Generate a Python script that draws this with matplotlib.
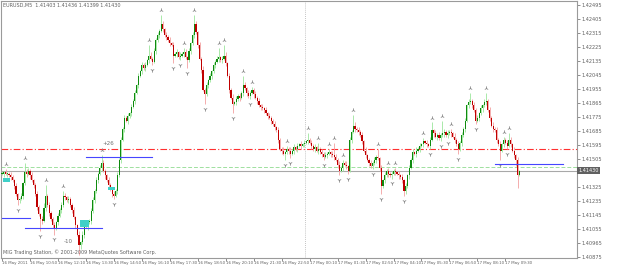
import numpy as np
import matplotlib
matplotlib.use("Agg")
import matplotlib.pyplot as plt
from matplotlib.patches import Rectangle
from datetime import datetime, timedelta

# EURUSD M5, prices kept as pips above 1.4000
base = 1.40
closes = [
    141, 142, 141, 141, 140, 139, 137, 133, 128, 124,
    125, 127, 135, 142, 141, 143, 140, 137, 134, 128,
    120, 115, 112, 111, 119, 127, 121, 116, 112, 108,
    106, 110, 114, 118, 121, 127, 126, 124, 125, 121,
    118, 113, 108, 102, 95, 97, 102, 108, 107, 110,
    111, 117, 124, 130, 137, 141, 145, 148, 143, 140,
    137, 134, 131, 128, 127, 130, 140, 150, 163, 170,
    177, 175, 178, 180, 184, 188, 193, 198, 204, 207,
    211, 209, 211, 214, 217, 215, 213, 220, 227, 230,
    233, 237, 234, 230, 229, 227, 225, 224, 217, 218,
    219, 216, 217, 218, 219, 216, 214, 220, 225, 230,
    237, 232, 224, 215, 208, 195, 192, 198, 201, 204,
    207, 211, 213, 215, 216, 214, 215, 217, 212, 204,
    195, 190, 186, 187, 189, 191, 190, 193, 198, 196,
    193, 191, 193, 195, 192, 190, 188, 185, 184, 183,
    182, 180, 178, 177, 175, 173, 171, 169, 163, 157,
    156, 154, 155, 157, 156, 154, 156, 158, 157, 159,
    160, 159, 160, 161, 162, 163, 161, 159, 157, 158,
    156, 157, 155, 154, 152, 153, 154, 155, 154, 153,
    152, 150, 147, 143, 145, 148, 147, 146, 143, 163,
    168, 172, 170, 169, 168, 166, 162, 156, 153, 150,
    148, 146, 148, 150, 152, 151, 145, 133, 137, 140,
    143, 141, 140, 141, 143, 142, 141, 140, 139, 137,
    130, 133, 140, 145, 150, 155, 154, 156, 157, 159,
    160, 162, 161, 160, 159, 163, 169, 167, 165, 166,
    164, 166, 167, 168, 166, 167, 168, 167, 165, 163,
    160, 157, 161, 166, 170, 175, 185, 187, 188, 185,
    182, 175, 177, 180, 183, 185, 187, 188, 182, 177,
    172, 170, 169, 163, 160, 156, 160, 163, 161, 159,
    163, 160, 156, 153, 150, 140.3, 143.0,
]
up_wick = [
    2, 1, 2, 1, 1, 2, 1, 1, 2, 1,
    1, 2, 1, 6, 2, 2, 1, 2, 1, 1,
    2, 1, 1, 2, 3, 7, 1, 2, 1, 1,
    2, 1, 2, 1, 2, 3, 2, 1, 2, 1,
    1, 2, 1, 1, 2, 1, 2, 1, 2, 1,
    1, 2, 2, 1, 2, 1, 2, 5, 2, 1,
    1, 2, 1, 1, 2, 1, 2, 1, 2, 1,
    2, 1, 2, 1, 2, 1, 2, 1, 2, 1,
    2, 1, 2, 1, 7, 2, 1, 2, 1, 2,
    1, 6, 2, 1, 2, 1, 2, 1, 2, 1,
    2, 1, 2, 1, 3, 2, 1, 2, 1, 2,
    6, 2, 1, 2, 1, 2, 1, 2, 1, 2,
    1, 2, 1, 2, 6, 1, 2, 7, 2, 1,
    2, 1, 2, 1, 2, 1, 2, 1, 6, 2,
    1, 2, 1, 2, 1, 2, 1, 2, 1, 2,
    1, 2, 1, 2, 1, 1, 2, 1, 2, 1,
    1, 2, 1, 2, 1, 2, 1, 2, 1, 2,
    1, 2, 1, 2, 1, 4, 1, 2, 1, 2,
    1, 4, 1, 2, 1, 2, 1, 2, 1, 2,
    8, 2, 1, 2, 1, 2, 1, 2, 1, 2,
    1, 7, 2, 1, 2, 1, 2, 1, 2, 1,
    1, 2, 1, 2, 1, 5, 1, 2, 1, 2,
    1, 2, 1, 2, 1, 2, 1, 2, 1, 2,
    1, 2, 1, 2, 1, 2, 1, 2, 1, 2,
    1, 2, 1, 2, 1, 2, 5, 1, 2, 1,
    2, 1, 8, 2, 1, 2, 1, 2, 1, 2,
    1, 2, 1, 2, 1, 2, 1, 2, 5, 1,
    2, 1, 2, 1, 2, 1, 2, 5, 1, 2,
    1, 2, 1, 2, 1, 2, 1, 2, 1, 2,
    4, 2, 1, 2, 1, 2, 0.6,
]
down_wick = [
    1, 2, 1, 2, 1, 2, 1, 2, 1, 3,
    2, 1, 2, 1, 2, 1, 2, 1, 2, 1,
    2, 1, 8, 2, 1, 2, 1, 2, 1, 2,
    4, 1, 2, 1, 2, 1, 2, 1, 2, 1,
    2, 1, 2, 1, 6, 2, 1, 2, 1, 2,
    1, 2, 1, 2, 1, 2, 1, 2, 1, 2,
    1, 2, 1, 2, 2, 1, 2, 1, 2, 1,
    2, 1, 2, 1, 2, 1, 2, 1, 2, 1,
    2, 1, 2, 1, 2, 1, 2, 1, 2, 1,
    2, 1, 2, 1, 2, 1, 2, 1, 5, 1,
    2, 1, 2, 1, 2, 1, 5, 1, 2, 1,
    2, 1, 2, 1, 2, 1, 6, 1, 2, 1,
    2, 1, 2, 1, 2, 1, 2, 1, 2, 1,
    2, 1, 6, 1, 2, 1, 2, 1, 2, 1,
    2, 1, 2, 1, 2, 1, 2, 1, 2, 1,
    2, 1, 2, 1, 2, 1, 2, 1, 2, 1,
    2, 1, 4, 1, 2, 3, 1, 2, 1, 2,
    1, 2, 1, 2, 1, 2, 1, 2, 1, 2,
    1, 2, 1, 2, 2, 1, 2, 1, 2, 1,
    2, 1, 2, 3, 1, 2, 1, 2, 2, 1,
    2, 1, 2, 1, 2, 1, 2, 1, 2, 1,
    2, 1, 2, 1, 2, 1, 2, 5, 1, 2,
    1, 2, 1, 2, 1, 2, 1, 2, 1, 2,
    3, 2, 1, 2, 1, 2, 1, 2, 1, 2,
    1, 2, 1, 2, 1, 2, 1, 2, 1, 2,
    1, 2, 1, 2, 1, 2, 1, 2, 1, 2,
    1, 3, 1, 2, 1, 2, 1, 2, 1, 2,
    1, 2, 1, 2, 1, 2, 1, 2, 1, 2,
    1, 2, 1, 2, 1, 6, 1, 2, 1, 2,
    1, 2, 1, 2, 4, 8.3, 0.4,
]
first_open = 141

# objects drawn on the chart (bar index, pips)
blue_lines = [(0, 16, 112.5), (13, 57, 106.2), (48, 86, 151.8), (282, 321, 147.3)]
cyan_boxes = [(1, 4, 135.7, 138.3), (45, 49, 106.8, 111.3), (61, 64, 130.5, 132.5)]
notes = [(61, 160.8, "+26"), (38, 97.8, "-10")]
red_level = 156.9
green_level = 145.1
bid = 143.0
start_time = datetime(2011, 5, 16, 9, 30)

closes = np.array(closes, dtype=float)
opens = np.concatenate([[first_open], closes[:-1]])
highs = np.maximum(opens, closes) + np.array(up_wick)
lows = np.minimum(opens, closes) - np.array(down_wick)
n = len(closes)
idx = np.arange(n)
P = lambda v: base + np.asarray(v) / 10000.0

fig = plt.figure(figsize=(6.25, 2.67), dpi=100)
ax = fig.add_axes([1/625, 9/267, 576/625, 257/267])
ax.set_facecolor("#ffffff")
for s in ax.spines.values():
    s.set_color("#9a9a9a")
    s.set_linewidth(0.8)

ymin, ymax = 1.40869, 1.42521
ax.set_ylim(ymin, ymax)
ax.set_xlim(-0.6, 329)

# levels
ax.axhline(P(red_level), color="#ff3030", lw=0.8, ls=(0, (6, 2, 1, 2)), zorder=1)
ax.axhline(P(green_level), color="#9fe09f", lw=0.7, ls=(0, (4, 2)), zorder=1)
ax.axhline(P(bid), color="#a8a8a8", lw=0.8, zorder=1)
ax.axvline(174 - 0.5, color="#b0b0b0", lw=0.6, ls=(0, (1, 1.5)), zorder=1)

# candles
bull = closes >= opens
wick_col = np.where(bull, "#9be59b", "#f2a0a0")
ax.vlines(idx, P(lows), P(highs), colors=wick_col, lw=0.6, zorder=2)
body_lo = np.minimum(opens, closes)
body_h = np.maximum(np.abs(closes - opens), 0.4)
body_col = np.where(bull, "#0f8a0f", "#c00000")
ax.bar(idx, body_h / 10000.0, bottom=P(body_lo), width=0.65, color=body_col,
       linewidth=0, zorder=3)

# fractals
up_f = [i for i in range(2, n - 2)
        if highs[i] > max(highs[i-2], highs[i-1], highs[i+1], highs[i+2])]
dn_f = [i for i in range(2, n - 2)
        if lows[i] < min(lows[i-2], lows[i-1], lows[i+1], lows[i+2])]
ax.scatter(up_f, P(highs[up_f] + 3.2), marker="2", s=9, c="#8a8a8a", lw=0.6, zorder=4)
ax.scatter(dn_f, P(lows[dn_f] - 3.2), marker="1", s=9, c="#8a8a8a", lw=0.6, zorder=4)

for a, b, v in blue_lines:
    ax.plot([a, b], [P(v), P(v)], color="#4646ff", lw=0.8, zorder=4)
for a, b, lo, hi in cyan_boxes:
    ax.add_patch(Rectangle((a - 0.5, P(lo)), b - a + 1, (hi - lo) / 10000.0,
                           color="#3fd0c8", lw=0, zorder=3))
for i, v, t in notes:
    ax.text(i, P(v), t, fontsize=4, color="#707070", ha="center", va="center", zorder=5)

# price axis (the label under the bid box is hidden, as in the terminal)
yt = 1.40875 + 0.0009 * np.arange(19)
ax.yaxis.tick_right()
ax.set_yticks(yt)
ax.set_yticklabels(["" if abs(v - P(bid)) < 0.00025 else "%.5f" % v for v in yt])
ax.tick_params(axis="y", labelsize=3.6, colors="#606060", length=2, width=0.5, pad=1.5)
ax.text(1.002, P(bid), "%.5f" % P(bid), transform=ax.get_yaxis_transform(),
        fontsize=3.6, color="white", va="center", ha="left",
        bbox=dict(boxstyle="square,pad=0.25", fc="#606060", ec="none"), zorder=6)

# time axis
xt = np.arange(0, n, 16)
labels = []
for k, i in enumerate(xt):
    t = start_time + timedelta(minutes=5 * int(i))
    labels.append(t.strftime("%d %b %Y") if k == 0 else t.strftime("%d %b %H:%M"))
ax.set_xticks(xt)
ax.set_xticklabels(labels, ha="left")
ax.tick_params(axis="x", labelsize=2.9, colors="#606060", length=2, width=0.5, pad=0.5)

ax.text(0.004, 0.992, "EURUSD,M5  1.41403 1.41436 1.41399 1.41430", transform=ax.transAxes,
        fontsize=3.5, color="#606060", va="top", ha="left")
ax.text(0.004, 0.012, "MIG Trading Station, \u00a9 2001-2009 MetaQuotes Software Corp.",
        transform=ax.transAxes, fontsize=3.5, color="#606060", va="bottom", ha="left")

fig.savefig("out.png", dpi=100, facecolor="white")
